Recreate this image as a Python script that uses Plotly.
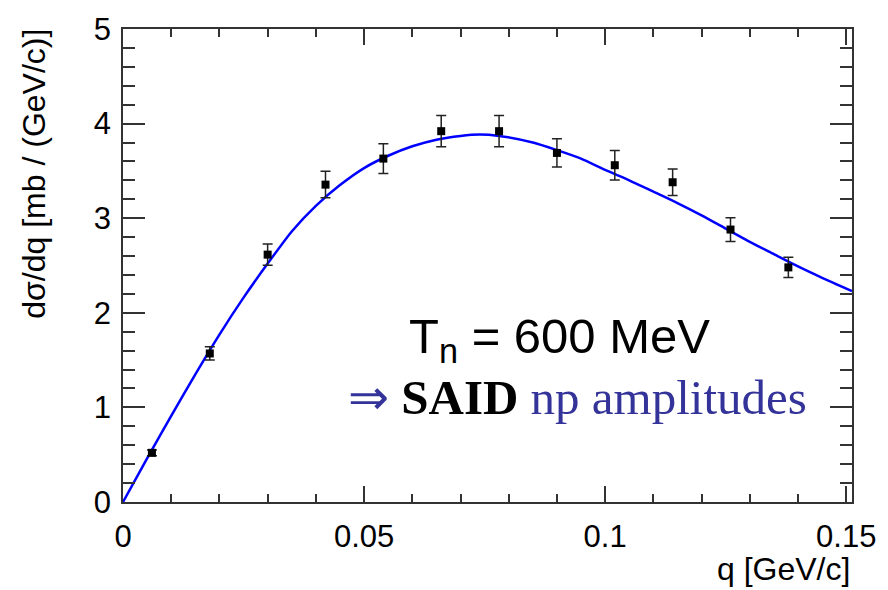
import plotly.graph_objects as go

# data points
q_data = [0.006, 0.018, 0.030, 0.042, 0.054, 0.066, 0.078, 0.090, 0.102, 0.114, 0.126, 0.138]
xs_data = [0.52, 1.57, 2.615, 3.355, 3.63, 3.92, 3.92, 3.69, 3.56, 3.38, 2.88, 2.48]
xs_err = [0.03, 0.07, 0.113, 0.14, 0.158, 0.165, 0.165, 0.15, 0.155, 0.14, 0.125, 0.106]

# SAID curve
q_curve = [0, 0.005, 0.010, 0.015, 0.020, 0.025, 0.030, 0.035, 0.040, 0.045, 0.050, 0.055,
           0.060, 0.065, 0.070, 0.074, 0.078, 0.085, 0.090, 0.095, 0.100, 0.105, 0.110,
           0.115, 0.120, 0.125, 0.130, 0.135, 0.140, 0.145, 0.1512]
xs_curve = [0, 0.46, 0.91, 1.35, 1.77, 2.16, 2.52, 2.86, 3.13, 3.35, 3.53, 3.66,
            3.76, 3.83, 3.87, 3.885, 3.87, 3.80, 3.72, 3.63, 3.51, 3.40, 3.28,
            3.16, 3.03, 2.89, 2.75, 2.62, 2.49, 2.37, 2.23]

fig = go.Figure()
fig.add_trace(go.Scatter(x=q_curve, y=xs_curve, mode="lines",
                         line=dict(color="#0000ff", width=2.5, shape="spline", smoothing=0.6),
                         showlegend=False, hoverinfo="skip"))
fig.add_trace(go.Scatter(x=q_data, y=xs_data, mode="markers",
                         marker=dict(symbol="square", size=8, color="black"),
                         error_y=dict(type="data", array=xs_err, color="#222222", thickness=1.5, width=5),
                         showlegend=False))

axis_common = dict(showgrid=False, zeroline=False, showline=True, linecolor="#333333", linewidth=1.5,
                   mirror="ticks", ticks="inside", tickcolor="#333333", tickwidth=1.5,
                   tickfont=dict(family="Liberation Sans, Arial", size=31, color="black"))

fig.update_xaxes(range=[0, 0.1512], tickvals=[0, 0.05, 0.1, 0.15], ticktext=["0", "0.05", "0.1", "0.15"],
                 ticklen=16, minor=dict(dtick=0.01, tick0=0, ticks="inside", ticklen=8, tickcolor="#333333", tickwidth=1.5),
                 ticklabelstandoff=6, **axis_common)
fig.update_yaxes(range=[0, 5], tickvals=[0, 1, 2, 3, 4, 5], ticklen=22,
                 minor=dict(dtick=0.2, tick0=0, ticks="inside", ticklen=12, tickcolor="#333333", tickwidth=1.5),
                 ticklabelstandoff=4, **axis_common)

fig.add_annotation(xref="paper", yref="paper", x=1.0, y=-0.1415, xanchor="right", yanchor="middle",
                   text="q [GeV/c]", showarrow=False,
                   font=dict(family="Liberation Sans, Arial", size=32, color="black"))
fig.add_annotation(xref="paper", yref="paper", x=-0.122, y=1.005, xanchor="center", yanchor="top",
                   text="dσ/dq [mb / (GeV/c)]", textangle=-90, showarrow=False,
                   font=dict(family="Liberation Sans, Arial", size=32, color="black"))

fig.add_annotation(xref="x", yref="y", x=0.0588, y=1.72, xanchor="left", yanchor="middle",
                   text="T<sub>n</sub> = 600 MeV", showarrow=False,
                   font=dict(family="Liberation Sans, Arial", size=49, color="black"))
fig.add_annotation(xref="x", yref="y", x=0.0462, y=1.10, xanchor="left", yanchor="middle",
                   text="<span style='color:#333399'>⇒</span> <b>SAID</b> <span style='color:#333399'>np amplitudes</span>",
                   showarrow=False,
                   font=dict(family="Liberation Serif, Times New Roman", size=49, color="black"))

fig.update_layout(width=888, height=590, margin=dict(l=123, r=34, t=18, b=88),
                  paper_bgcolor="white", plot_bgcolor="white")

fig.write_html("out.html")
